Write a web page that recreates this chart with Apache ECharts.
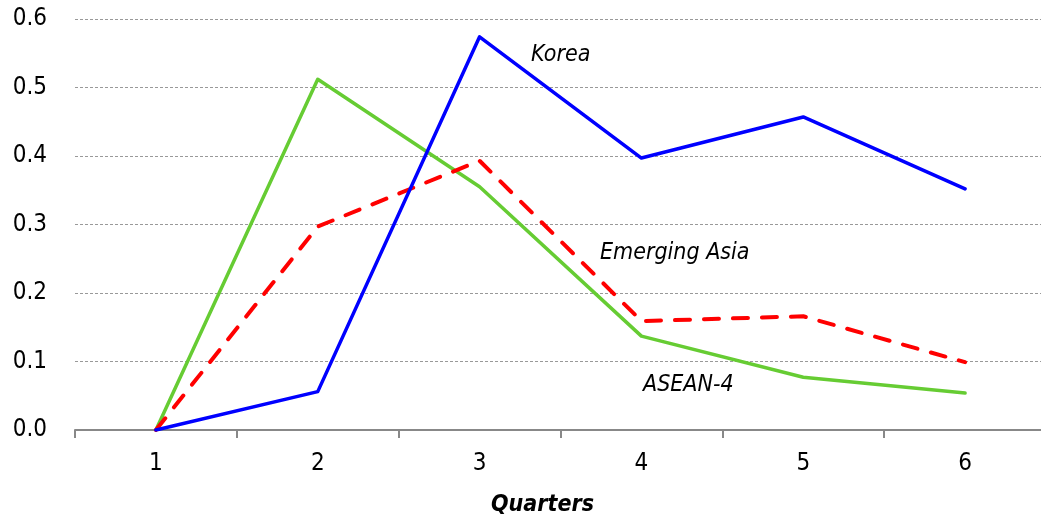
<!DOCTYPE html>
<html>
<head>
<meta charset="utf-8">
<script src="https://cdn.jsdelivr.net/npm/echarts@6/dist/echarts.min.js"></script>
<style>
  html, body { margin: 0; padding: 0; background: #fff; }
  #chart { width: 1041px; height: 518px; }
</style>
</head>
<body>
<div id="chart"></div>
<script>
const quarters = ['1', '2', '3', '4', '5', '6']
const korea = [0, 0.056, 0.574, 0.397, 0.457, 0.352]
const emergingAsia = [0, 0.297, 0.393, 0.159, 0.166, 0.099]
const asean4 = [0, 0.512, 0.355, 0.137, 0.077, 0.054]
const yTicks = [0, 0.1, 0.2, 0.3, 0.4, 0.5, 0.6]

const font = '"Liberation Sans Narrow", "DejaVu Sans Condensed", "Roboto", sans-serif'

const chart = echarts.init(document.getElementById('chart'))

const lineSeries = (name, data, color, width, type) => ({
  name,
  type: 'line',
  data,
  symbol: 'none',
  lineStyle: { color, width, type, cap: 'round', join: 'round' },
  animation: false
})

chart.setOption({
  textStyle: { fontFamily: font },
  grid: { left: 75, right: -5, top: 19, bottom: 88, outerBoundsMode: 'none', containLabel: false },
  xAxis: {
    type: 'category',
    data: quarters,
    boundaryGap: true,
    name: 'Quarters',
    nameLocation: 'middle',
    nameGap: 64,
    nameTextStyle: { fontFamily: font, fontSize: 23, fontWeight: 'bold', fontStyle: 'italic', color: '#000', padding: [0, 36, 0, 0] },
    axisLine: { lineStyle: { color: '#888', width: 2 } },
    axisTick: { show: true, length: 8, lineStyle: { color: '#888', width: 2 } },
    axisLabel: { fontFamily: font, fontSize: 24, color: '#000', margin: 22 }
  },
  yAxis: {
    type: 'value',
    min: yTicks[0],
    max: yTicks[yTicks.length - 1],
    interval: 0.1,
    axisLine: { show: false },
    axisTick: { show: false },
    axisLabel: { fontFamily: font, fontSize: 24, color: '#000', margin: 28, formatter: v => v.toFixed(1) },
    splitLine: { lineStyle: { color: '#999', width: 1, type: [3, 2] } }
  },
  series: [
    lineSeries('ASEAN-4', asean4, '#66cc33', 3.5, 'solid'),
    lineSeries('Emerging Asia', emergingAsia, '#ff0000', 4, [15, 14]),
    lineSeries('Korea', korea, '#0000ff', 3.5, 'solid')
  ],
  graphic: [
    { type: 'text', left: 531, top: 44, style: { text: 'Korea', fontFamily: font, fontSize: 23, fontStyle: 'italic', fill: '#000' } },
    { type: 'text', left: 600, top: 242, style: { text: 'Emerging Asia', fontFamily: font, fontSize: 23, fontStyle: 'italic', fill: '#000' } },
    { type: 'text', left: 643, top: 374, style: { text: 'ASEAN-4', fontFamily: font, fontSize: 23, fontStyle: 'italic', fill: '#000' } }
  ]
})
</script>
</body>
</html>
